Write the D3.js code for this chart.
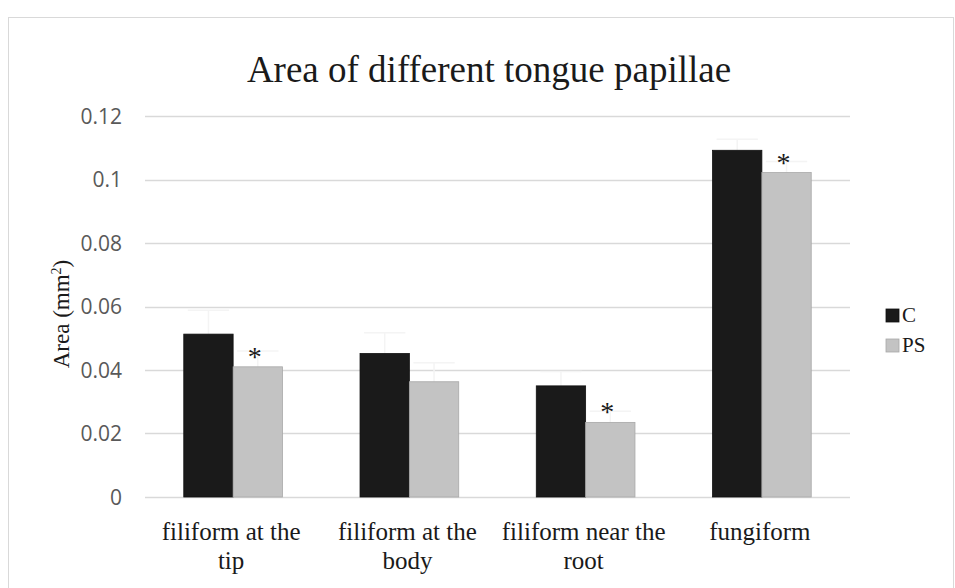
<!DOCTYPE html>
<html>
<head>
<meta charset="utf-8">
<script src="https://cdn.jsdelivr.net/npm/d3@7"></script>
<style>
  body { margin: 0; background: #fff; }
  svg { display: block; }
</style>
</head>
<body>
<div id="chart"></div>
<script>
// chart data
const categories = [["filiform at the", "tip"], ["filiform at the", "body"], ["filiform near the", "root"], ["fungiform"]];
const seriesNames = ["C", "PS"];
const valuesC = [0.0513, 0.0452, 0.0350, 0.1092];
const valuesPS = [0.0410, 0.0363, 0.0235, 0.1022];
const errorsC = [0.0075, 0.0065, 0.0045, 0.0035];
const errorsPS = [0.0050, 0.0060, 0.0035, 0.0035];
const significant = [true, false, true, true];
const yTicks = [0, 0.02, 0.04, 0.06, 0.08, 0.1, 0.12];

var width = 955, height = 588;
var margin = {top: 116, right: 105, bottom: 91, left: 145};

var svg = d3.select("#chart").append("svg")
    .attr("width", width)
    .attr("height", height);

// outer chart frame
svg.append("rect")
    .attr("x", 8.5).attr("y", 17.5)
    .attr("width", 945).attr("height", 600)
    .style("fill", "none")
    .style("stroke", "#d9d9d9");

var x = d3.scaleBand()
    .domain(d3.range(categories.length))
    .range([margin.left, width - margin.right])
    .paddingInner(0.44)
    .paddingOuter(0.22);

var xs = d3.scaleBand()
    .domain(seriesNames)
    .range([0, x.bandwidth()]);

var y = d3.scaleLinear()
    .domain([0, 0.12])
    .range([height - margin.bottom, margin.top]);

// gridlines
svg.append("g").selectAll("line")
    .data(yTicks)
    .enter().append("line")
    .attr("x1", margin.left)
    .attr("x2", width - margin.right)
    .attr("y1", function(d) { return Math.round(y(d)) + 0.5; })
    .attr("y2", function(d) { return Math.round(y(d)) + 0.5; })
    .style("stroke", "#d9d9d9")
    .style("stroke-width", 1.5);

// y tick labels
svg.append("g").selectAll("text")
    .data(yTicks)
    .enter().append("text")
    .attr("x", 122)
    .attr("y", function(d) { return y(d); })
    .attr("dy", "0.36em")
    .attr("text-anchor", "end")
    .style("font-family", "'Open Sans', 'Liberation Sans', sans-serif")
    .style("font-size", "21px")
    .style("fill", "#595959")
    .text(function(d) { return d3.format("~g")(d); });

// bars
var rows = categories.map(function(c, i) {
    return [
        {cat: i, s: "C", v: valuesC[i], e: errorsC[i]},
        {cat: i, s: "PS", v: valuesPS[i], e: errorsPS[i]}
    ];
});
var flat = d3.merge(rows);

// faint error bars (almost white in original)
var eb = svg.append("g").selectAll("g")
    .data(flat)
    .enter().append("g")
    .style("stroke", "#f4f4f4")
    .style("stroke-width", 1.5);
eb.append("line")
    .attr("x1", function(d) { return x(d.cat) + xs(d.s) + xs.bandwidth() / 2; })
    .attr("x2", function(d) { return x(d.cat) + xs(d.s) + xs.bandwidth() / 2; })
    .attr("y1", function(d) { return y(d.v); })
    .attr("y2", function(d) { return y(d.v + d.e); });
eb.append("line")
    .attr("x1", function(d) { return x(d.cat) + xs(d.s) + 4; })
    .attr("x2", function(d) { return x(d.cat) + xs(d.s) + xs.bandwidth() - 4; })
    .attr("y1", function(d) { return y(d.v + d.e); })
    .attr("y2", function(d) { return y(d.v + d.e); });

svg.append("g").selectAll("rect")
    .data(flat)
    .enter().append("rect")
    .attr("x", function(d) { return x(d.cat) + xs(d.s); })
    .attr("y", function(d) { return y(d.v); })
    .attr("width", xs.bandwidth())
    .attr("height", function(d) { return y(0) - y(d.v); })
    .style("fill", function(d) { return d.s === "C" ? "#1a1a1a" : "#c3c3c3"; })
    .style("stroke", function(d) { return d.s === "C" ? "#111" : "#a8a8a8"; })
    .style("stroke-width", 0.8);

// significance asterisks
svg.append("g").selectAll("text")
    .data(flat.filter(function(d) { return d.s === "PS" && significant[d.cat]; }))
    .enter().append("text")
    .attr("x", function(d) { return x(d.cat) + xs(d.s) + xs.bandwidth() / 2 - 3; })
    .attr("y", function(d) { return y(d.v) - 1; })
    .attr("text-anchor", "middle")
    .style("font-family", "'Liberation Serif', 'Times New Roman', serif")
    .style("font-size", "28px")
    .style("fill", "#1a1a1a")
    .text("*");

// x labels
var xl = svg.append("g").selectAll("text")
    .data(categories)
    .enter().append("text")
    .attr("text-anchor", "middle")
    .attr("transform", function(d, i) { return "translate(" + (x(i) + x.bandwidth() / 2 - 2) + ",0)"; })
    .style("font-family", "'Liberation Serif', 'Times New Roman', serif")
    .style("font-size", "25px")
    .style("fill", "#1a1a1a");
xl.selectAll("tspan")
    .data(function(d) { return d; })
    .enter().append("tspan")
    .attr("x", 0)
    .attr("y", function(d, j) { return 540 + j * 29; })
    .text(function(d) { return d; });

// y axis label
svg.append("text")
    .attr("transform", "translate(69,314) rotate(-90)")
    .attr("text-anchor", "middle")
    .style("font-family", "'Liberation Serif', 'Times New Roman', serif")
    .style("font-size", "23px")
    .style("fill", "#1a1a1a")
    .html("Area (mm<tspan dy='-8' font-size='14px'>2</tspan><tspan dy='8'>)</tspan>");

// title
svg.append("text")
    .attr("x", 489)
    .attr("y", 82)
    .attr("text-anchor", "middle")
    .style("font-family", "'Liberation Serif', 'Times New Roman', serif")
    .style("font-size", "37px")
    .style("fill", "#1a1a1a")
    .text("Area of different tongue papillae");

// legend
var legend = svg.append("g").selectAll("g")
    .data(seriesNames)
    .enter().append("g")
    .attr("transform", function(d, i) { return "translate(886," + (309 + i * 30) + ")"; });
legend.append("rect")
    .attr("width", 13).attr("height", 13)
    .style("fill", function(d) { return d === "C" ? "#1a1a1a" : "#c3c3c3"; })
    .style("stroke", function(d) { return d === "C" ? "#111" : "#a8a8a8"; })
    .style("stroke-width", 0.8);
legend.append("text")
    .attr("x", 16)
    .attr("y", 13)
    .style("font-family", "'Liberation Serif', 'Times New Roman', serif")
    .style("font-size", "21px")
    .style("fill", "#1a1a1a")
    .text(function(d) { return d; });
</script>
</body>
</html>
